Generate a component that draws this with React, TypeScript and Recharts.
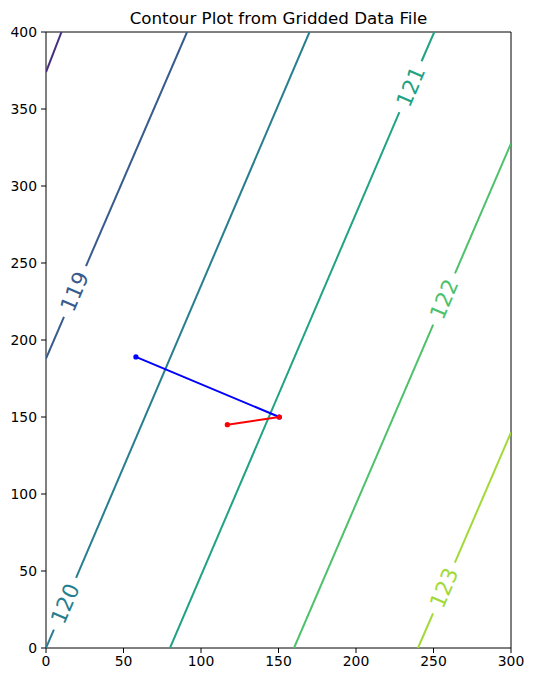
import React from 'react';
import { ComposedChart, Scatter, XAxis, YAxis, ReferenceLine } from 'recharts';

// axis ticks
const xTicks = [0, 50, 100, 150, 200, 250, 300];
const yTicks = [0, 50, 100, 150, 200, 250, 300, 350, 400];

// contour levels + viridis colours
const levels = [118, 119, 120, 121, 122, 123];
const levelColors = ['#472f7d', '#375b8d', '#277e8e', '#22a284', '#4dc16b', '#a2d936'];

// contour segments (gaps where the inline labels sit)
const contour118 = [[{ x: 0, y: 374 }, { x: 10, y: 400 }]];
const contour119 = [
  [{ x: 0, y: 188 }, { x: 11.6, y: 215 }],
  [{ x: 25.8, y: 248 }, { x: 91, y: 400 }],
];
const contour120 = [
  [{ x: 0, y: 0 }, { x: 5.1, y: 12 }],
  [{ x: 19.4, y: 45.5 }, { x: 170, y: 400 }],
];
const contour121 = [
  [{ x: 80, y: 0 }, { x: 228, y: 348 }],
  [{ x: 242.3, y: 381 }, { x: 250.5, y: 400 }],
];
const contour122 = [
  [{ x: 160, y: 0 }, { x: 249.8, y: 210 }],
  [{ x: 263.9, y: 243.3 }, { x: 300, y: 327.7 }],
];
const contour123 = [
  [{ x: 240, y: 0 }, { x: 249.7, y: 22.5 }],
  [{ x: 263.8, y: 55.4 }, { x: 300, y: 140 }],
];
const contours = [contour118, contour119, contour120, contour121, contour122, contour123];

// inline label positions
const contourLabels = [
  { x: 18.4, y: 231.5, level: 119 },
  { x: 12.3, y: 28.8, level: 120 },
  { x: 235.3, y: 364.5, level: 121 },
  { x: 256.8, y: 226.5, level: 122 },
  { x: 256.8, y: 39, level: 123 },
];

// overlaid paths
const bluePath = [{ x: 58, y: 189 }, { x: 150.5, y: 150 }];
const redPath = [{ x: 117, y: 145 }, { x: 150.5, y: 150 }];

const FONT = 'DejaVu Sans, sans-serif';

const colorFor = (level: number) => levelColors[levels.indexOf(level)];

const LabelShape = (props: any) => {
  const { cx, cy, payload } = props;
  return (
    <text
      x={cx}
      y={cy}
      transform={`rotate(-67 ${cx} ${cy})`}
      textAnchor="middle"
      dominantBaseline="central"
      fontSize={21.5}
      fontFamily={FONT}
      fill={colorFor(payload.level)}
    >
      {payload.level}
    </text>
  );
};

const Dot = (color: string) => (props: any) => (
  <circle cx={props.cx} cy={props.cy} r={2.6} fill={color} />
);

const NoShape = () => <g />;

export default function App() {
  const tickStyle = { fill: '#000', fontSize: 13.9, fontFamily: FONT };
  return (
    <div style={{ position: 'absolute', left: 0, top: 0, width: 534, height: 682, background: '#fff' }}>
      <svg width={534} height={32} style={{ position: 'absolute', left: 0, top: 0 }}>
        <text x={278.5} y={24} textAnchor="middle" fontSize={16.7} fontFamily={FONT} fill="#000">
          Contour Plot from Gridded Data File
        </text>
      </svg>
      <ComposedChart width={534} height={682} margin={{ top: 32, right: 23, bottom: 0, left: 0 }}>
        <XAxis
          type="number"
          dataKey="x"
          domain={[0, 300]}
          ticks={xTicks}
          interval={0}
          allowDataOverflow
          height={34}
          tickSize={5}
          tickMargin={3}
          tick={tickStyle}
          axisLine={{ stroke: '#000', strokeWidth: 1 }}
          tickLine={{ stroke: '#000', strokeWidth: 1 }}
        />
        <YAxis
          type="number"
          dataKey="y"
          domain={[0, 400]}
          ticks={yTicks}
          interval={0}
          allowDataOverflow
          width={46}
          tickSize={5}
          tickMargin={4}
          tick={tickStyle}
          axisLine={{ stroke: '#000', strokeWidth: 1 }}
          tickLine={{ stroke: '#000', strokeWidth: 1 }}
        />
        <ReferenceLine y={400} stroke="#000" strokeWidth={1} />
        <ReferenceLine x={300} stroke="#000" strokeWidth={1} />

        {contours.map((segs, i) =>
          segs.map((seg, j) => (
            <Scatter
              key={`c${i}-${j}`}
              data={seg}
              line={{ stroke: levelColors[i], strokeWidth: 2 }}
              stroke={levelColors[i]}
              shape={NoShape}
              isAnimationActive={false}
            />
          ))
        )}

        <Scatter data={contourLabels} shape={LabelShape} isAnimationActive={false} />

        <Scatter
          data={bluePath}
          line={{ stroke: '#0000ff', strokeWidth: 2 }}
          stroke="#0000ff"
          fill="#0000ff"
          shape={Dot('#0000ff')}
          isAnimationActive={false}
        />
        <Scatter
          data={redPath}
          line={{ stroke: '#ff0000', strokeWidth: 2 }}
          stroke="#ff0000"
          fill="#ff0000"
          shape={Dot('#ff0000')}
          isAnimationActive={false}
        />
      </ComposedChart>
    </div>
  );
}
